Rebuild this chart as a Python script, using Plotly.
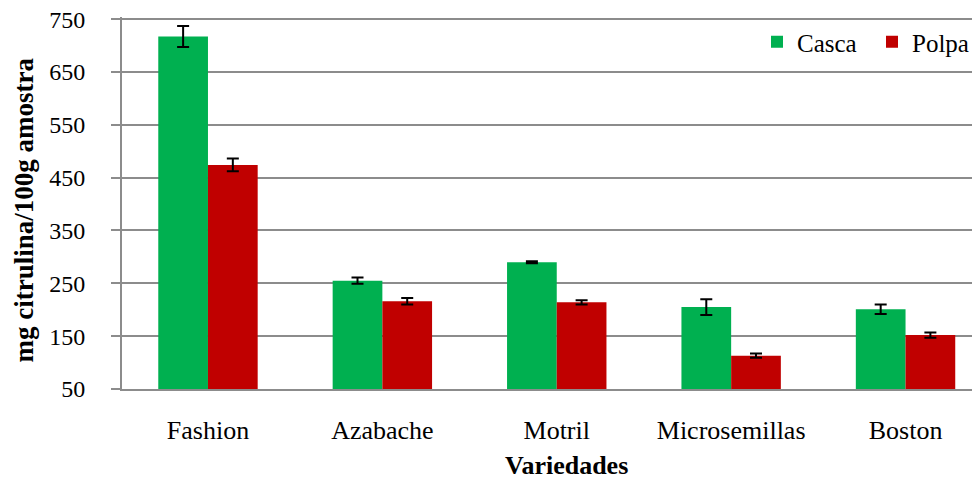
import plotly.graph_objects as go

categories = ["Fashion", "Azabache", "Motril", "Microsemillas", "Boston"]
casca = [717, 255, 290, 205, 201]
casca_err = [20, 6, 2, 15, 9]
polpa = [474, 216, 214, 113, 152]
polpa_err = [12, 6, 4, 4, 5]
y_ticks = [50, 150, 250, 350, 450, 550, 650, 750]

FONT = "Liberation Serif, Times New Roman, serif"
GRID = "#8c8c8c"

# page body has an 8px default margin; the figure is sized to fit the window
W, H = 972, 472
L, R, T, B = 114, 0, 9, 91
PW = W - L - R
PH = H - T - B

fig = go.Figure()
fig.add_trace(go.Bar(
    name="Casca", x=categories, y=casca, marker=dict(color="#00B050", line=dict(width=0)),
    error_y=dict(type="data", array=casca_err, color="black", thickness=2, width=6),
))
fig.add_trace(go.Bar(
    name="Polpa", x=categories, y=polpa, marker=dict(color="#C00000", line=dict(width=0)),
    error_y=dict(type="data", array=polpa_err, color="black", thickness=2, width=6),
))

fig.update_layout(
    width=W, height=H,
    margin=dict(l=L, r=R, t=T, b=B, autoexpand=False),
    paper_bgcolor="white", plot_bgcolor="white",
    barmode="group", bargap=0.43, bargroupgap=0,
    font=dict(family=FONT, size=25, color="black"),
    showlegend=True,
    legend=dict(orientation="h", x=(749 - L) / PW, y=1 - 2 / PH, xanchor="left", yanchor="top",
                bgcolor="rgba(0,0,0,0)", font=dict(size=25, family=FONT),
                entrywidth=70, itemwidth=30),
    xaxis=dict(
        type="category", range=[-0.493, 4.427],
        showline=True, linecolor=GRID, linewidth=2, ticks="", showgrid=False,
        tickfont=dict(size=26, family=FONT), ticklabelstandoff=17,
    ),
    yaxis=dict(
        range=[50, 754], tickvals=y_ticks, ticktext=[str(v) for v in y_ticks],
        showline=True, linecolor=GRID, linewidth=2,
        ticks="outside", ticklen=9, tickcolor=GRID, tickwidth=2,
        showgrid=True, gridcolor=GRID, gridwidth=1.5, zeroline=False,
        tickfont=dict(size=24, family=FONT), ticklabelstandoff=21,
        ticklabeloverflow="allow",
    ),
    annotations=[
        dict(text="<b>Variedades</b>", xref="paper", yref="paper",
             x=(558 - L) / PW, y=-76 / PH, xanchor="center", yanchor="middle",
             showarrow=False, font=dict(size=26, family=FONT)),
        dict(text="<b>mg citrulina/100g amostra</b>", xref="paper", yref="paper",
             x=-98 / PW, y=0.48, xanchor="center", yanchor="middle", textangle=-90,
             showarrow=False, font=dict(size=27, family=FONT)),
    ],
)

fig.write_html("out.html")
